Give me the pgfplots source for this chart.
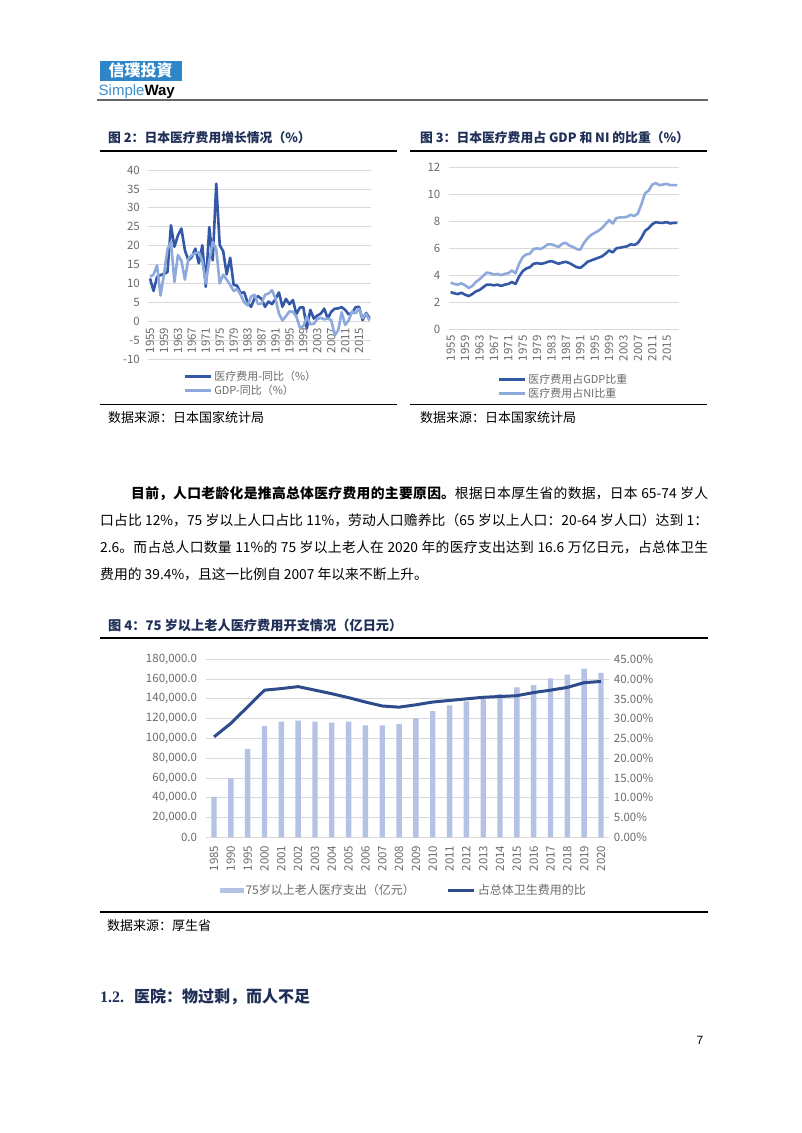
\documentclass[border=0pt]{standalone}
\usepackage{fontspec}
\setmainfont{Noto Sans CJK SC}
\newfontfamily\arial{Liberation Sans}
\newfontfamily\tnr{Liberation Serif}
\usepackage{pgfplots}
\usepackage{pgfplotstable}
\pgfplotsset{compat=1.18}
\XeTeXlinebreaklocale "zh"
\XeTeXlinebreakskip=0pt plus 1pt

\definecolor{darkln}{HTML}{3358A6}
\definecolor{lightln}{HTML}{8EA9DB}
\definecolor{navyln}{HTML}{2E4B8C}
\definecolor{barcol}{HTML}{B4C2E4}
\definecolor{gridc}{HTML}{D9D9D9}
\definecolor{labc}{HTML}{6B6B6B}
\definecolor{ttl}{HTML}{1F2F57}
\definecolor{logo}{HTML}{2E86C8}
\definecolor{simple}{HTML}{3A8FCB}

% 图2: 日本医疗费用 / GDP 同比 (%)
\pgfplotstableread{
year med gdp
1955 11.3 11.8
1956 8.0 12.3
1957 11.7 14.8
1958 12.2 6.8
1959 12.5 12.4
1960 13.0 19.0
1961 25.4 21.0
1962 19.7 10.4
1963 22.7 17.5
1964 24.5 16.0
1965 18.8 11.0
1966 16.1 16.5
1967 17.0 17.5
1968 19.2 18.0
1969 15.3 18.3
1970 20.1 16.0
1971 9.1 10.0
1972 24.9 16.0
1973 16.1 21.0
1974 36.4 19.0
1975 20.1 10.0
1976 18.5 12.3
1977 12.4 11.0
1978 16.8 9.6
1979 9.6 8.0
1980 9.4 8.5
1981 7.4 7.0
1982 7.7 5.0
1983 4.9 4.2
1984 3.8 6.5
1985 6.1 7.0
1986 6.6 4.5
1987 5.9 4.7
1988 3.8 7.0
1989 5.2 7.3
1990 4.5 8.2
1991 5.9 6.0
1992 7.6 2.0
1993 3.8 0.2
1994 5.9 1.3
1995 4.5 2.6
1996 5.6 2.5
1997 1.9 1.2
1998 3.6 -1.7
1999 3.7 -1.3
2000 -1.9 1.2
2001 3.0 -0.8
2002 0.7 -0.7
2003 1.5 0.6
2004 2.0 0.9
2005 3.3 0.5
2006 0.7 0.7
2007 2.5 0.3
2008 3.3 -3.7
2009 3.4 -2.4
2010 3.7 2.4
2011 3.0 -1.0
2012 1.8 0.2
2013 2.2 2.6
2014 3.7 2.1
2015 3.8 3.3
2016 0.3 0.8
2017 2.2 2.0
2018 0.8 0.2
}\growth

% 图3: 医疗费用占 GDP / NI 比重 (%)
\pgfplotstableread{
year gdp ni
1955 2.75 3.45
1956 2.65 3.35
1957 2.60 3.30
1958 2.70 3.40
1959 2.55 3.25
1960 2.45 3.05
1961 2.60 3.20
1962 2.80 3.50
1963 2.90 3.70
1964 3.10 3.95
1965 3.30 4.20
1966 3.30 4.15
1967 3.25 4.05
1968 3.30 4.10
1969 3.20 4.00
1970 3.30 4.10
1971 3.35 4.15
1972 3.50 4.35
1973 3.35 4.15
1974 3.90 4.85
1975 4.30 5.35
1976 4.50 5.55
1977 4.60 5.60
1978 4.85 5.95
1979 4.90 6.00
1980 4.85 5.95
1981 4.90 6.10
1982 5.00 6.30
1983 5.05 6.30
1984 4.95 6.20
1985 4.85 6.10
1986 4.95 6.35
1987 5.00 6.40
1988 4.90 6.20
1989 4.75 6.10
1990 4.60 5.95
1991 4.55 5.90
1992 4.75 6.40
1993 5.00 6.75
1994 5.10 7.00
1995 5.20 7.15
1996 5.30 7.30
1997 5.40 7.50
1998 5.60 7.80
1999 5.85 8.10
2000 5.70 7.85
2001 6.00 8.25
2002 6.05 8.30
2003 6.10 8.30
2004 6.15 8.35
2005 6.30 8.50
2006 6.25 8.40
2007 6.40 8.60
2008 6.80 9.30
2009 7.30 10.10
2010 7.50 10.30
2011 7.80 10.75
2012 7.95 10.85
2013 7.90 10.70
2014 7.90 10.75
2015 7.95 10.80
2016 7.85 10.70
2017 7.90 10.70
2018 7.90 10.70
}\share

% 图4: 75岁以上老人医疗支出 (亿日元) 与占比 (%)
\pgfplotstableread{
i year exp pct
0 1985 41000 25.4
1 1990 59600 28.8
2 1995 89300 33.0
3 2000 112500 37.2
4 2001 116900 37.6
5 2002 117900 38.1
6 2003 116900 37.2
7 2004 115900 36.3
8 2005 116900 35.3
9 2006 113200 34.2
10 2007 113200 33.2
11 2008 114600 32.9
12 2009 120600 33.5
13 2010 127700 34.2
14 2011 133400 34.6
15 2012 137500 35.0
16 2013 140500 35.4
17 2014 144900 35.6
18 2015 151700 35.8
19 2016 154000 36.6
20 2017 160800 37.2
21 2018 164400 37.9
22 2019 170500 39.1
23 2020 166400 39.4
}\elder

\pgfplotsset{
  pagechart/.style={
    scale only axis, anchor=south west,
    /pgf/number format/assume math mode=true,
    /pgf/number format/1000 sep={},
    tick label style={font=\fontsize{11.5}{13}\selectfont, text=labc},
    major tick length=0pt,
    ymajorgrids, grid style={draw=gridc, line width=0.8pt},
    y axis line style={draw=none},
    x axis line style={draw=gridc, line width=0.8pt},
    xticklabel style={rotate=90, anchor=east},
    xticklabel shift=3pt,
    legend style={draw=none, fill=none, inner sep=0pt,
      font=\fontsize{11}{13}\selectfont, text=labc, row sep=-1pt},
    legend cell align=left,
  },
  lineleg/.style={legend image code/.code={\draw[##1, line width=3pt] (0pt,0pt) -- (26pt,0pt);}},
}

\begin{document}
\begin{tikzpicture}
\fill[white] (0pt,0pt) rectangle (802pt,-1133pt);
\path[use as bounding box] (0pt,0pt) rectangle (802pt,-1133pt);

\begin{scope}[x=1pt, y=-1pt]
% header
\fill[logo] (99.5,60.5) rectangle (182,80.5);
\node[text=white, font=\fontsize{16}{16}\selectfont\bfseries] at (140.7,70.5) {信璞投資};
\node[anchor=west, inner sep=0pt, font=\arial\fontsize{15}{15}\selectfont] at (98.5,91.5)
  {\textcolor{simple}{Simple}\textbf{Way}};
\draw[line width=2pt, black!60] (97,100) -- (708,100);

% figure titles
\node[anchor=west, inner sep=0pt, text=ttl, font=\fontsize{12.8}{14}\selectfont\bfseries] at (108,138)
  {图 2：日本医疗费用增长情况（\%）};
\node[anchor=west, inner sep=0pt, text=ttl, font=\fontsize{12.8}{14}\selectfont\bfseries] at (420,138)
  {图 3：日本医疗费用占 GDP 和 NI 的比重（\%）};
\draw[line width=1.5pt] (100,151) -- (397,151);
\draw[line width=1.5pt] (410,151) -- (707,151);
\draw[line width=1.5pt] (100,404.5) -- (397,404.5);
\draw[line width=1.5pt] (410,404.5) -- (707,404.5);
\node[anchor=west, inner sep=0pt, font=\fontsize{13}{14}\selectfont] at (108,418) {数据来源：日本国家统计局};
\node[anchor=west, inner sep=0pt, font=\fontsize{13}{14}\selectfont] at (420,418) {数据来源：日本国家统计局};

% body paragraph
\node[anchor=north west, inner sep=0pt, text width=608pt, align=justify,
      font=\fontsize{13.8}{27}\selectfont] at (100,486)
  {\noindent\hspace*{31pt}\textbf{目前，人口老龄化是推高总体医疗费用的主要原因。}根据日本厚生省的数据，日本 65-74 岁人\linebreak
   口占比 12\%，75 岁以上人口占比 11\%，劳动人口赡养比（65 岁以上人口：20-64 岁人口）达到 1：\linebreak
   2.6。而占总人口数量 11\%的 75 岁以上老人在 2020 年的医疗支出达到 16.6 万亿日元，占总体卫生\linebreak
   费用的 39.4\%，且这一比例自 2007 年以来不断上升。};

% figure 4 frame
\node[anchor=west, inner sep=0pt, text=ttl, font=\fontsize{13.2}{14}\selectfont\bfseries] at (108,625)
  {图 4：75 岁以上老人医疗费用开支情况（亿日元）};
\draw[line width=1.5pt] (100,638) -- (708,638);
\draw[line width=1.5pt] (100,912) -- (708,912);
\node[anchor=west, inner sep=0pt, font=\fontsize{13}{14}\selectfont] at (107,926) {数据来源：厚生省};

% section heading and page number
\node[anchor=west, inner sep=0pt, text=ttl, font=\fontsize{16}{18}\selectfont] at (100,997)
  {{\tnr\bfseries 1.2.}\hspace{10pt}\textbf{医院：物过剩，而人不足}};
\node[font=\arial\fontsize{12}{12}\selectfont] at (700,1040) {7};
\end{scope}

% ---------- 图2 ----------
\begin{axis}[pagechart, at={(148.3pt,-359pt)}, width=223pt, height=189pt,
  xmin=1954.5, xmax=2018.5, ymin=-10, ymax=40,
  axis x line*=middle, axis y line*=left, yticklabel shift=5pt,
  xtick={1955,1959,...,2015}, ytick={-10,-5,...,40},
  legend style={at={(0.156,-0.053)}, anchor=north west},
  lineleg]
\addplot[darkln, line width=2.6pt, line join=round] table[x=year, y=med] {\growth};
\addlegendentry{医疗费用-同比（\%）}
\addplot[lightln, line width=2.6pt, line join=round] table[x=year, y=gdp] {\growth};
\addlegendentry{GDP-同比（\%）}
\end{axis}

% ---------- 图3 ----------
\begin{axis}[pagechart, at={(448.9pt,-329pt)}, width=230.4pt, height=161.3pt,
  xmin=1954.5, xmax=2018.5, ymin=0, ymax=12,
  axis x line*=bottom, axis y line*=left, yticklabel shift=5pt,
  xtick={1955,1959,...,2015}, ytick={0,2,...,12},
  legend style={at={(0.209,-0.267)}, anchor=north west},
  lineleg]
\addplot[darkln, line width=2.6pt, line join=round] table[x=year, y=gdp] {\share};
\addlegendentry{医疗费用占GDP比重}
\addplot[lightln, line width=2.6pt, line join=round] table[x=year, y=ni] {\share};
\addlegendentry{医疗费用占NI比重}
\end{axis}

% ---------- 图4 ----------
\begin{axis}[pagechart, at={(205.6pt,-837.3pt)}, width=403.8pt, height=178pt,
  xmin=-0.5, xmax=23.5, ymin=0, ymax=180000,
  axis x line*=bottom, axis y line*=left, yticklabel shift=5pt, xticklabel shift=5pt,
  xtick={0,...,23},
  xticklabels={1985,1990,1995,2000,2001,2002,2003,2004,2005,2006,2007,2008,2009,2010,2011,2012,2013,2014,2015,2016,2017,2018,2019,2020},
  ytick={0,20000,...,180000}, scaled y ticks=false,
  yticklabels={0.0,{20,000.0},{40,000.0},{60,000.0},{80,000.0},{100,000.0},{120,000.0},{140,000.0},{160,000.0},{180,000.0}},
  legend columns=2,
  legend style={at={(0.034,-0.251)}, anchor=north west, font=\fontsize{12}{13}\selectfont,
    /tikz/every even column/.append style={column sep=30pt}}]
\addplot[ybar, bar width=5.4pt, fill=barcol, draw=none,
  legend image code/.code={\fill[barcol] (0pt,-2.5pt) rectangle (24pt,2.5pt);}]
  table[x=i, y=exp] {\elder};
\addlegendentry{75岁以上老人医疗支出（亿元）}
\addlegendimage{lineleg, navyln}
\addlegendentry{占总体卫生费用的比}
\end{axis}
\begin{axis}[pagechart, at={(205.6pt,-837.3pt)}, width=403.8pt, height=178pt,
  xmin=-0.5, xmax=23.5, ymin=0, ymax=45,
  axis x line=none, axis y line*=right, ymajorgrids=false, yticklabel shift=1pt,
  ytick={0,5,...,45},
  yticklabels={0.00\%,5.00\%,10.00\%,15.00\%,20.00\%,25.00\%,30.00\%,35.00\%,40.00\%,45.00\%}]
\addplot[navyln, line width=3pt, line join=round] table[x=i, y=pct] {\elder};
\end{axis}
\end{tikzpicture}
\end{document}
